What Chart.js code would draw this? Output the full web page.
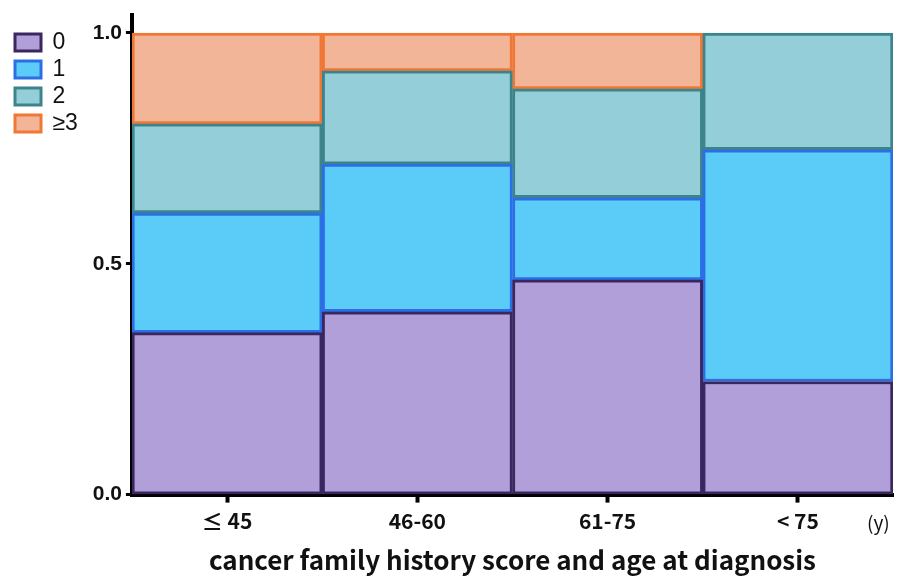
<!DOCTYPE html>
<html>
<head>
<meta charset="UTF-8">
<script src="https://cdn.jsdelivr.net/npm/chart.js"></script>
<style>
  body { margin: 0; background: white; }
  #wrap { width: 903px; height: 576px; position: relative; }
</style>
</head>
<body>
<div id="wrap"><canvas id="mosaic"></canvas></div>
<script>
// categories and stacked proportions
const ageGroups = ['≤ 45', '46-60', '61-75', '< 75'];
const score0 = [0.351, 0.396, 0.465, 0.245];
const score1 = [0.259, 0.320, 0.178, 0.502];
const score2 = [0.193, 0.202, 0.236, 0.253];
const score3 = [0.197, 0.082, 0.121, 0];
const yTicks = [0, 0.5, 1.0];

const unitLabel = {
    id: 'unitLabel',
    afterDraw(chart) {
        const c = chart.ctx;
        const x = chart.scales.x;
        c.save();
        c.font = '19px "Noto Sans CJK JP"';
        c.fillStyle = '#111';
        c.textAlign = 'left';
        c.textBaseline = 'middle';
        c.fillText('(y)', x.right - 26, x.top + 28);
        c.restore();
    }
};

new Chart(document.getElementById('mosaic'), {
    type: 'bar',
    data: {
        labels: ageGroups,
        datasets: [
            { label: '0', data: score0, backgroundColor: '#b09fd8', borderColor: '#3b275f' },
            { label: '1', data: score1, backgroundColor: '#5bcbf8', borderColor: '#2c6ee6' },
            { label: '2', data: score2, backgroundColor: '#94ced8', borderColor: '#3c838b' },
            { label: '≥3', data: score3, backgroundColor: '#f3b597', borderColor: '#f07837' }
        ]
    },
    options: {
        responsive: true,
        maintainAspectRatio: false,
        animation: false,
        datasets: {
            bar: { barPercentage: 1, categoryPercentage: 1, borderWidth: 3, borderSkipped: false }
        },
        layout: { padding: { top: 3, right: 10, bottom: 0, left: 11 } },
        plugins: {
            tooltip: { enabled: false },
            legend: {
                position: 'left',
                align: 'start',
                title: { display: true, text: ' ', font: { size: 10 }, padding: { top: 2, bottom: 10 } },
                labels: {
                    color: '#111',
                    boxWidth: 26,
                    boxHeight: 17,
                    padding: 4,
                    font: { family: 'Liberation Sans', size: 23 }
                }
            }
        },
        scales: {
            x: {
                stacked: true,
                grid: { drawOnChartArea: false, offset: false, color: '#000', tickLength: 8, tickWidth: 4 },
                border: { color: '#000', width: 4 },
                ticks: { color: '#111', font: { family: 'Noto Sans CJK JP', size: 21, weight: 'bold' }, padding: 6 },
                title: {
                    display: true,
                    text: 'cancer family history score and age at diagnosis',
                    color: '#111',
                    font: { family: 'Noto Sans CJK JP', size: 26, weight: 'bold' },
                    padding: { top: 5, bottom: 0 }
                }
            },
            y: {
                stacked: true,
                min: 0,
                max: 1.04,
                afterBuildTicks(scale) { scale.ticks = yTicks.map(v => ({ value: v })); },
                afterFit(scale) { scale.width = 44; },
                grid: { drawOnChartArea: false, color: '#000', tickLength: 6, tickWidth: 3 },
                border: { color: '#000', width: 4 },
                ticks: {
                    color: '#111',
                    padding: 4,
                    font: { family: 'Liberation Sans', size: 21, weight: 'bold', lineHeight: 1 },
                    callback: v => v.toFixed(1)
                }
            }
        }
    },
    plugins: [unitLabel]
});
</script>
</body>
</html>
